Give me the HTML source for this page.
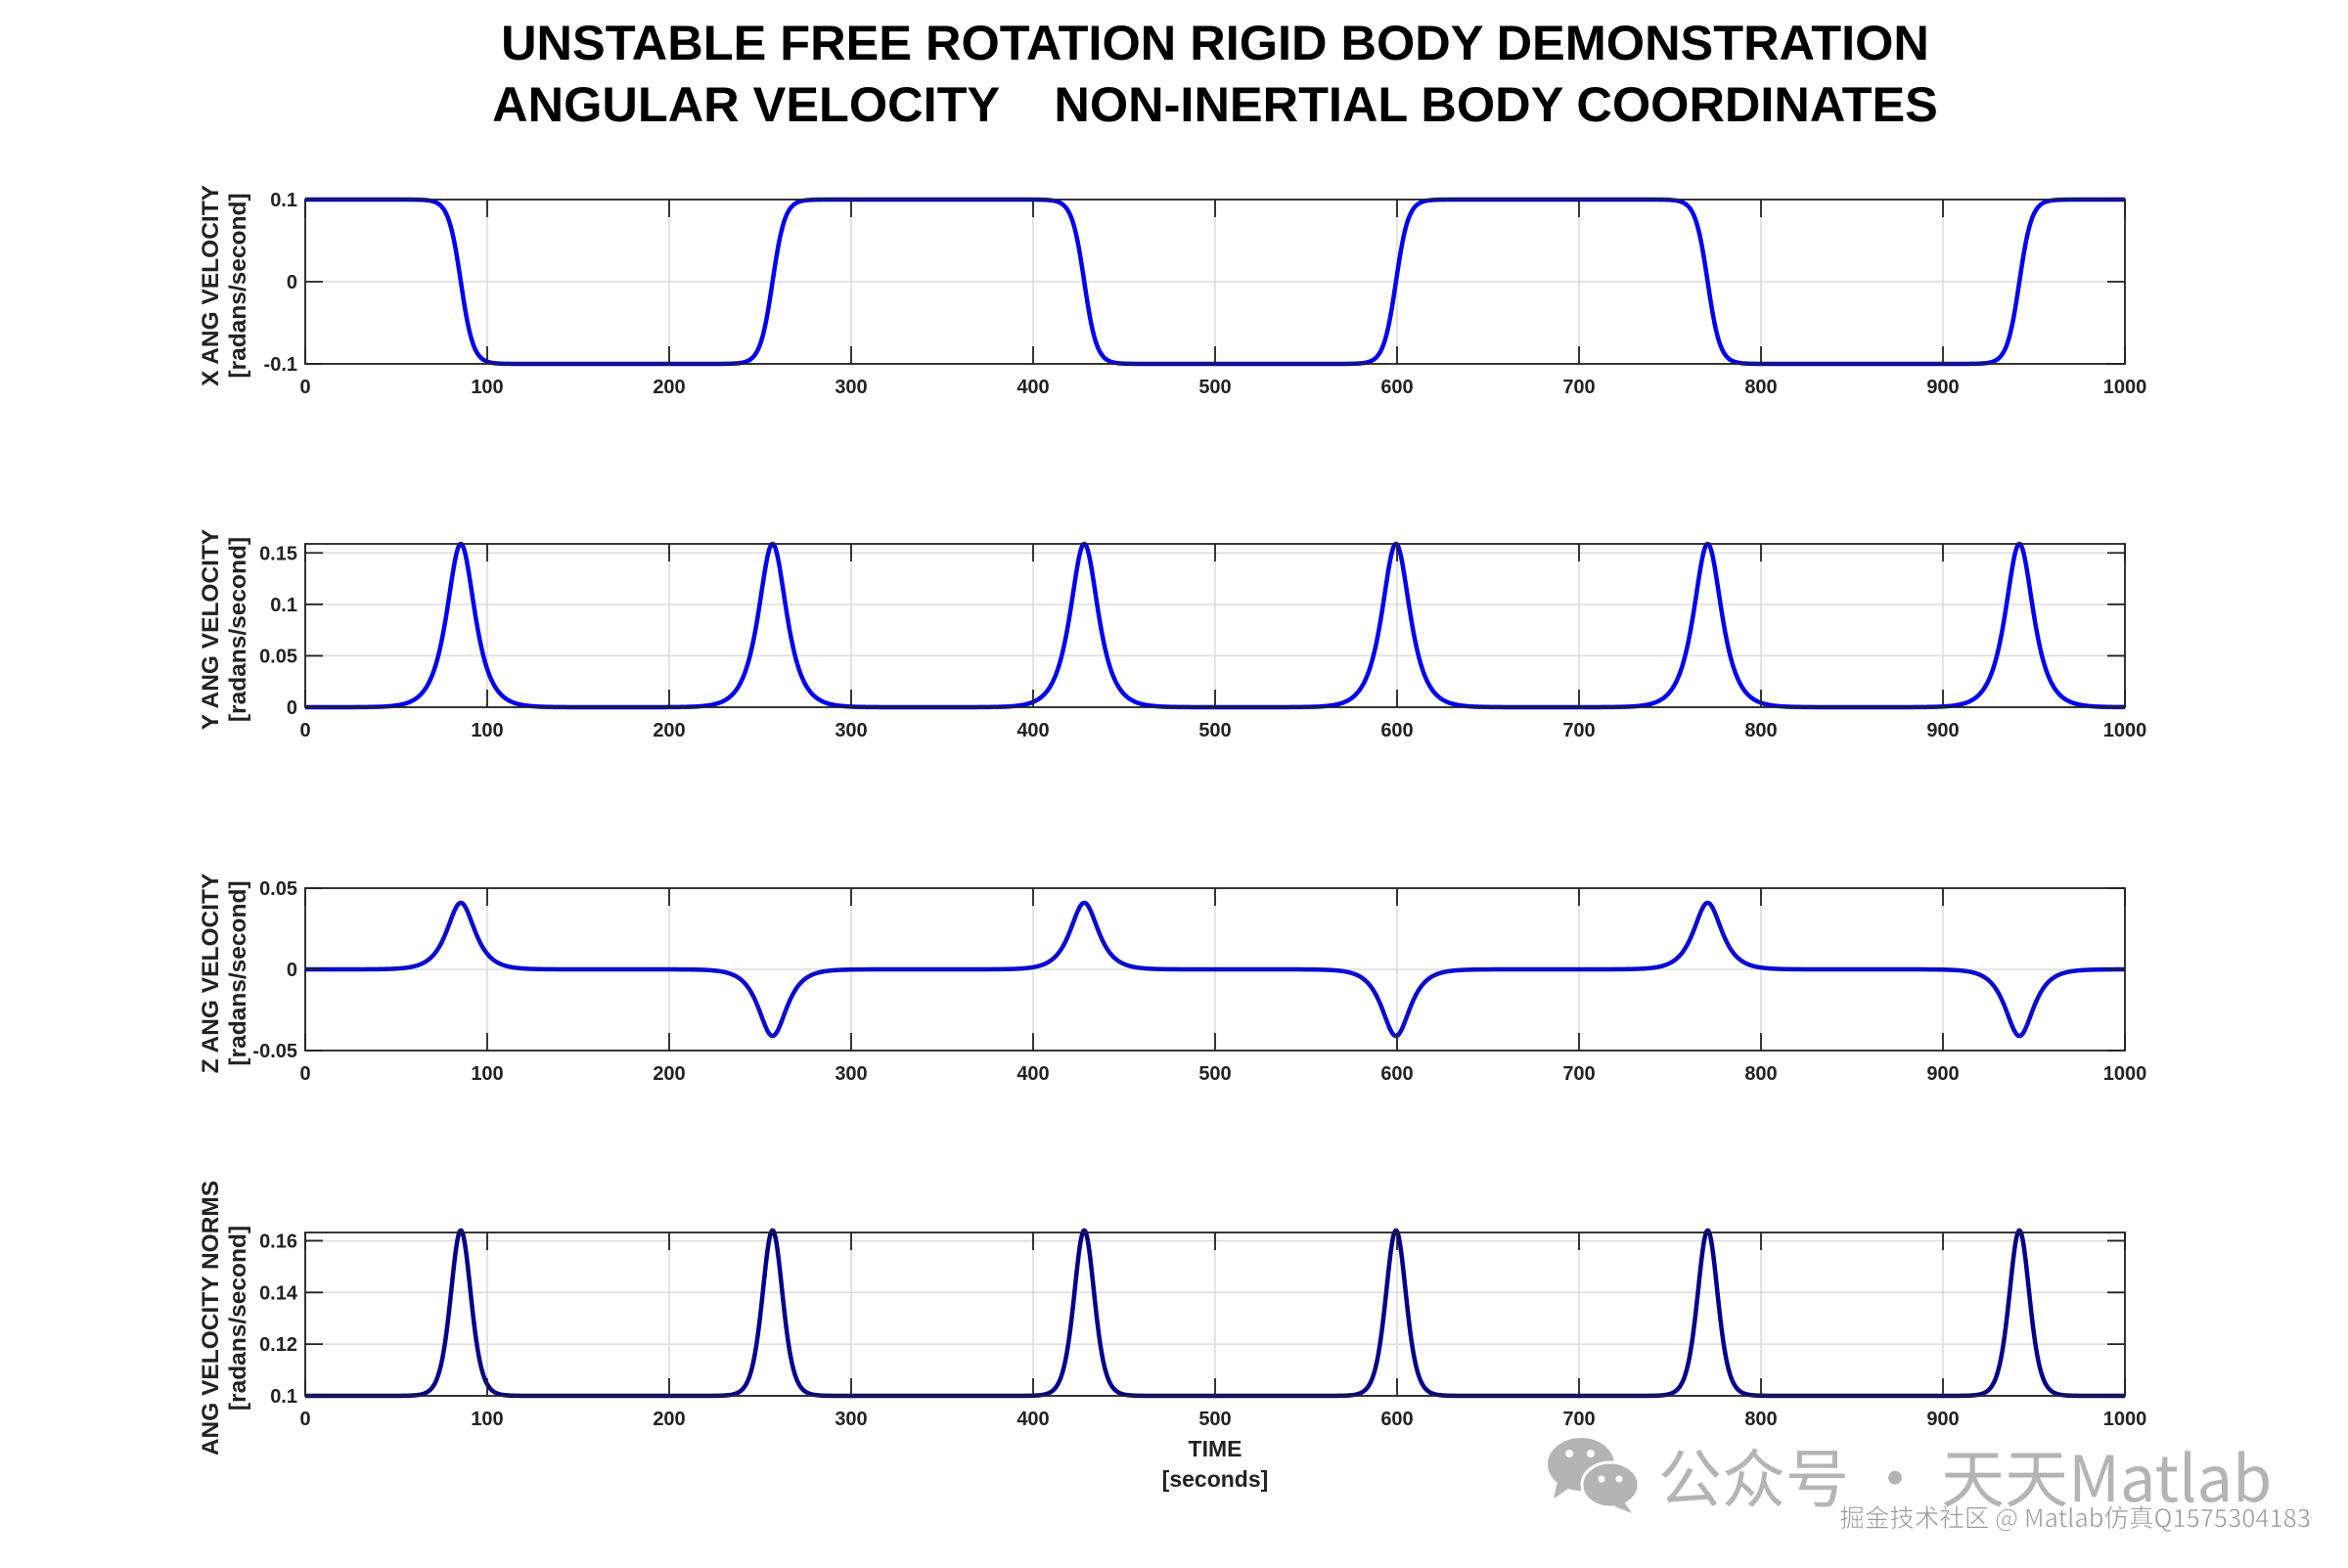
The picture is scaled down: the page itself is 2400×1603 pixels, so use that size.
<!DOCTYPE html>
<html><head><meta charset="utf-8"><style>
html,body{margin:0;padding:0;background:#fff}
svg{display:block}
</style></head><body>
<svg id="s" width="2400" height="1603" xmlns="http://www.w3.org/2000/svg" font-family="Liberation Sans, Arial, sans-serif">
<rect width="2400" height="1603" fill="#fff"/>
<text x="1242" y="61" font-size="50.5" font-weight="bold" text-anchor="middle" fill="#000">UNSTABLE FREE ROTATION RIGID BODY DEMONSTRATION</text>
<text x="1242" y="124" font-size="50.5" font-weight="bold" text-anchor="middle" fill="#000" xml:space="preserve">ANGULAR VELOCITY    NON-INERTIAL BODY COORDINATES</text>
<g id="plots"></g>
<text x="1242" y="1489" font-size="23" font-weight="bold" text-anchor="middle" fill="#222">TIME</text>
<text x="1242" y="1520" font-size="23" font-weight="bold" text-anchor="middle" fill="#222">[seconds]</text>
<g fill="#b4b4b4">
<ellipse cx="1616" cy="1497" rx="34" ry="27"/>
<path d="M1592 1515 L1588 1532 L1606 1520 Z"/>
<ellipse cx="1646" cy="1518" rx="29" ry="23" stroke="#fff" stroke-width="3"/>
<path d="M1660 1535 L1668 1547 L1650 1540 Z"/>
</g>
<g fill="#fff"><circle cx="1604" cy="1486" r="4"/><circle cx="1626" cy="1486" r="4"/><circle cx="1637" cy="1512" r="3.5"/><circle cx="1655" cy="1512" r="3.5"/></g>
<text x="1695" y="1535" font-size="65" fill="#b4b4b4" font-family="Noto Sans CJK SC, sans-serif">公众号 · 天天Matlab</text>
<text x="2362" y="1561" font-size="25.5" fill="#999" stroke="#fff" stroke-width="0.6" text-anchor="end" font-family="Noto Sans CJK SC, sans-serif">掘金技术社区 @ Matlab仿真Q1575304183</text>
</svg>
<script>
(function(){
var NS="http://www.w3.org/2000/svg",g=document.getElementById("plots");
var L=312,R=2172,W=R-L;
var w=6.8,P=171.3,T0=85.5;
function comp(t){
 var k=Math.round((t-T0)/P);var tk=T0+k*P;var u=(t-tk)/w;
 var s=(k%2===0)?1:-1;
 var th=Math.tanh(u),sh=1/Math.cosh(u);
 var x=-s*0.1*th,y=0.1588*sh,z=s*0.041*sh;
 return [x,y,z,Math.sqrt(x*x+y*y+z*z)];
}
var panels=[
 {top:204,bot:372,y0:-0.1,y1:0.1,ticks:[-0.1,0,0.1],lab:["-0.1","0","0.1"],c:0,col:"#0000f0",l1:"X ANG VELOCITY"},
 {top:556,bot:723,y0:0,y1:0.1588,ticks:[0,0.05,0.1,0.15],lab:["0","0.05","0.1","0.15"],c:1,col:"#0000f0",l1:"Y ANG VELOCITY"},
 {top:908,bot:1074,y0:-0.05,y1:0.05,ticks:[-0.05,0,0.05],lab:["-0.05","0","0.05"],c:2,col:"#0a0ad0",l1:"Z ANG VELOCITY"},
 {top:1260,bot:1427,y0:0.1,y1:0.1632,ticks:[0.1,0.12,0.14,0.16],lab:["0.1","0.12","0.14","0.16"],c:3,col:"#00008b",l1:"ANG VELOCITY NORMS"}
];
function el(n,a,t){var e=document.createElementNS(NS,n);for(var k in a)e.setAttribute(k,a[k]);if(t!==undefined)e.textContent=t;g.appendChild(e);return e;}
panels.forEach(function(p){
 var H=p.bot-p.top;
 function Y(v){return p.bot-(v-p.y0)/(p.y1-p.y0)*H;}
 var i,xx;
 for(i=0;i<=10;i++){xx=L+W*i/10;
  el("line",{x1:xx,y1:p.top,x2:xx,y2:p.bot,stroke:"#dcdcdc","stroke-width":1.5});}
 p.ticks.forEach(function(v){var yy=Y(v);el("line",{x1:L,y1:yy,x2:R,y2:yy,stroke:"#dcdcdc","stroke-width":1.5});});
 var d="";for(i=0;i<=3000;i++){var t=1000*i/3000;var v=comp(t)[p.c];d+=(i?"L":"M")+(L+W*t/1000).toFixed(2)+" "+Y(v).toFixed(2);}
 el("path",{d:d,fill:"none",stroke:p.col,"stroke-width":4.5,"stroke-linejoin":"round"});
 el("rect",{x:L,y:p.top,width:W,height:H,fill:"none",stroke:"#222","stroke-width":1.8});
 for(i=0;i<=10;i++){xx=L+W*i/10;
  el("line",{x1:xx,y1:p.bot,x2:xx,y2:p.bot-18,stroke:"#222","stroke-width":1.8});
  el("line",{x1:xx,y1:p.top,x2:xx,y2:p.top+18,stroke:"#222","stroke-width":1.8});
  el("text",{x:xx,y:p.bot+30,"font-size":20,"font-weight":"bold","text-anchor":"middle",fill:"#222"},String(i*100));}
 p.ticks.forEach(function(v,j){var yy=Y(v);
  el("line",{x1:L,y1:yy,x2:L+18,y2:yy,stroke:"#222","stroke-width":1.8});
  el("line",{x1:R,y1:yy,x2:R-18,y2:yy,stroke:"#222","stroke-width":1.8});
  el("text",{x:L-8,y:yy+7,"font-size":20,"font-weight":"bold","text-anchor":"end",fill:"#222"},p.lab[j]);});
 var cy=(p.top+p.bot)/2+4;
 el("text",{x:0,y:0,transform:"translate(223,"+cy+") rotate(-90)","font-size":24.5,"font-weight":"bold","text-anchor":"middle",fill:"#222"},p.l1);
 el("text",{x:0,y:0,transform:"translate(251,"+cy+") rotate(-90)","font-size":24.5,"font-weight":"bold","text-anchor":"middle",fill:"#222"},"[radans/second]");
});
})();
</script>
</body></html>
